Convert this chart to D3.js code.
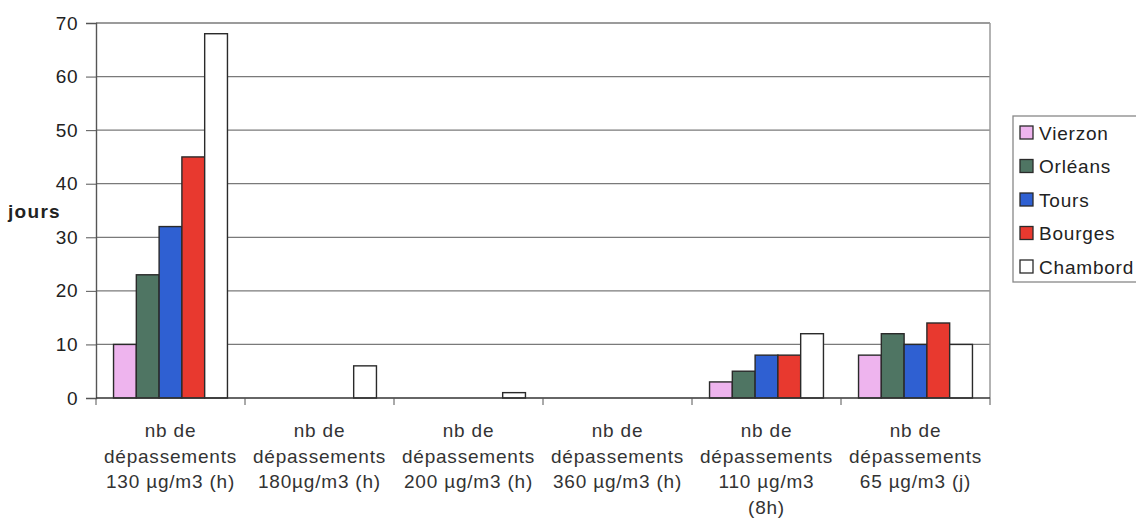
<!DOCTYPE html>
<html><head><meta charset="utf-8">
<script src="https://cdn.jsdelivr.net/npm/d3@7"></script>
<style>body{margin:0;background:#fff;} svg{display:block;font-family:"Liberation Sans",Arial,sans-serif;}</style>
</head><body>
<script>
const categories = [
  ["nb de","dépassements","130 µg/m3 (h)"],
  ["nb de","dépassements","180µg/m3 (h)"],
  ["nb de","dépassements","200 µg/m3 (h)"],
  ["nb de","dépassements","360 µg/m3 (h)"],
  ["nb de","dépassements","110 µg/m3","(8h)"],
  ["nb de","dépassements","65 µg/m3 (j)"]
];
const series = ["Vierzon","Orléans","Tours","Bourges","Chambord"];
const colors = ["#eeb4ee","#4f7563","#2f60d2","#e8392f","#ffffff"];
const Vierzon  = [10, 0, 0, 0, 3, 8];
const Orleans  = [23, 0, 0, 0, 5, 12];
const Tours    = [32, 0, 0, 0, 8, 10];
const Bourges  = [45, 0, 0, 0, 8, 14];
const Chambord = [68, 6, 1, 0, 12, 10];
const values = [Vierzon, Orleans, Tours, Bourges, Chambord];
const yTicks = [0,10,20,30,40,50,60,70];

const W = 1136, H = 520;
const m = {left:96, right:990, top:23, bottom:398};
const svg = d3.select("body").append("svg").attr("width",W).attr("height",H);

const x0 = d3.scaleBand().domain(d3.range(categories.length)).range([m.left,m.right]);
const x1 = d3.scaleBand().domain(d3.range(series.length)).range([0,x0.bandwidth()]).paddingOuter(0.77).paddingInner(0);
const y = d3.scaleLinear().domain([0,70]).range([m.bottom,m.top]);

// gridlines
svg.append("g").selectAll("line").data(yTicks.slice(1)).join("line")
  .attr("x1",m.left).attr("x2",m.right).attr("y1",d=>y(d)).attr("y2",d=>y(d))
  .attr("stroke","#7a7a7a").attr("stroke-width",1.3);
// right border
svg.append("line").attr("x1",m.right).attr("x2",m.right).attr("y1",m.top).attr("y2",m.bottom)
  .attr("stroke","#9a9a9a").attr("stroke-width",1.5);

// bars
const g = svg.append("g");
categories.forEach((c,i)=>{
  series.forEach((s,j)=>{
    const v = values[j][i];
    if (v<=0) return;
    g.append("rect")
      .attr("x", x0(i)+x1(j)).attr("width", x1.bandwidth())
      .attr("y", y(v)).attr("height", y(0)-y(v))
      .attr("fill", colors[j]).attr("stroke","#2a2a2a").attr("stroke-width",1.4);
  });
});

// y axis
const ya = svg.append("g").attr("transform",`translate(${m.left},0)`)
  .call(d3.axisLeft(y).tickValues(yTicks).tickSize(10).tickPadding(8));
ya.select(".domain").attr("stroke","#555").attr("stroke-width",1.4);
ya.selectAll(".tick line").attr("stroke","#555");
ya.selectAll("text").attr("font-size",19).attr("fill","#222").attr("font-family","Liberation Sans, Arial, sans-serif").attr("letter-spacing",0.5);

// x axis
const xa = svg.append("g").attr("transform",`translate(0,${m.bottom})`);
xa.append("line").attr("x1",m.left).attr("x2",m.right).attr("stroke","#333").attr("stroke-width",1.6);
xa.selectAll(".tk").data(d3.range(categories.length+1)).join("line")
  .attr("x1",d=>m.left+d*x0.bandwidth()).attr("x2",d=>m.left+d*x0.bandwidth())
  .attr("y1",0).attr("y2",7).attr("stroke","#555");
categories.forEach((c,i)=>{
  const t = svg.append("text").attr("text-anchor","middle").attr("font-size",19).attr("fill","#333")
    .attr("letter-spacing",0.8).attr("x", x0(i)+x0.bandwidth()/2);
  c.forEach((line,k)=>{
    t.append("tspan").attr("x", x0(i)+x0.bandwidth()/2).attr("y", 437+k*25.7).text(line);
  });
});

// y title
svg.append("text").attr("x",8).attr("y",218).attr("font-size",19).attr("font-weight","bold")
  .attr("letter-spacing",1.3).attr("fill","#222").text("jours");

// legend
const lg = svg.append("g");
lg.append("rect").attr("x",1013).attr("y",116).attr("width",140).attr("height",166)
  .attr("fill","#fff").attr("stroke","#888").attr("stroke-width",1.3);
series.forEach((s,j)=>{
  const yy = 132.5 + j*33.5;
  lg.append("rect").attr("x",1020).attr("y",yy-6.5).attr("width",13).attr("height",13)
    .attr("fill",colors[j]).attr("stroke","#2a2a2a").attr("stroke-width",1.3);
  lg.append("text").attr("x",1039).attr("y",yy+7).attr("font-size",19).attr("letter-spacing",0.8)
    .attr("fill","#222").text(s);
});
</script>
</body></html>
